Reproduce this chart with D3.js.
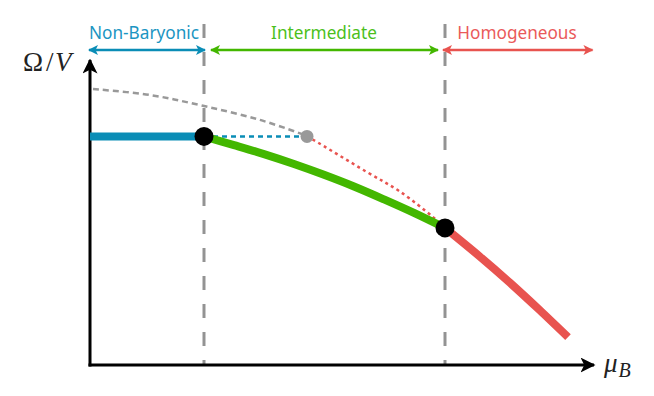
<!DOCTYPE html>
<html>
<head>
<meta charset="utf-8">
<script src="https://cdn.jsdelivr.net/npm/d3@7"></script>
<style>
html,body{margin:0;padding:0;background:#fff;}
svg{display:block;}
</style>
</head>
<body>
<svg id="chart" width="654" height="396"></svg>
<script>
// ---- data (chart units) ----
const phaseLabels = ["Non-Baryonic", "Intermediate", "Homogeneous"];
const transitions = [2.28, 7.1];
const xMax = 10.05;

const vacuumX = [0.06, 1.2, 2.26, 3.4, 4.34];
const vacuumY = [9.2, 9.0, 8.64, 8.17, 7.64];

const nonBaryonicX = [0, 2.28];
const nonBaryonicY = [7.62, 7.62];

const nonBaryonicExtX = [2.28, 4.34];
const nonBaryonicExtY = [7.62, 7.62];

const intermediateX = [2.28, 2.88, 3.48, 4.08, 4.68, 5.28, 5.88, 6.48, 7.1];
const intermediateY = [7.62, 7.33, 7.03, 6.70, 6.34, 5.95, 5.52, 5.07, 4.57];

const homogeneousMetaX = [4.34, 4.47, 5.53, 6.2, 6.86, 7.1];
const homogeneousMetaY = [7.62, 7.5, 6.44, 5.78, 4.93, 4.57];

const homogeneousX = [7.1, 7.8, 8.4, 9.0, 9.56];
const homogeneousY = [4.57, 3.61, 2.74, 1.82, 0.93];

const transitionPointsX = [2.28, 7.1];
const transitionPointsY = [7.62, 4.57];
const endpointX = [4.34];
const endpointY = [7.62];

// ---- drawing ----
const colors = { blue: "#0a8db6", green: "#43b700", red: "#e8534f", gray: "#999999" };
const labelColors = ["#1b95c2", "#4cbf1c", "#ea5a5a"];
const svg = d3.select("#chart");
const x = d3.scaleLinear().domain([0, 10]).range([90, 590]);
const y = d3.scaleLinear().domain([0, 10]).range([365, 65]);
const zip = (xs, ys) => xs.map((v, i) => [v, ys[i]]);
const line = d3.line().x(d => x(d[0])).y(d => y(d[1])).curve(d3.curveCatmullRom.alpha(0.5));

const defs = svg.append("defs");
function marker(id, color) {
  defs.append("marker").attr("id", id).attr("viewBox", "0 0 10 10")
    .attr("refX", 9).attr("refY", 5).attr("markerWidth", 4.2).attr("markerHeight", 4.2)
    .attr("markerUnits", "strokeWidth").attr("orient", "auto-start-reverse")
    .append("path").attr("d", "M0,0 L10,5 L0,10 L2.5,5 Z").attr("fill", color);
}
marker("mBlue", colors.blue); marker("mGreen", colors.green); marker("mRed", colors.red);
defs.append("marker").attr("id", "mAxis").attr("viewBox", "0 0 10 10")
  .attr("refX", 9).attr("refY", 5).attr("markerWidth", 5).attr("markerHeight", 5)
  .attr("markerUnits", "strokeWidth").attr("orient", "auto")
  .append("path").attr("d", "M0,0 L10,5 L0,10 L2.5,5 Z").attr("fill", "#000");

// vertical transition lines
svg.selectAll("line.trans").data(transitions).join("line")
  .attr("x1", d => x(d)).attr("x2", d => x(d)).attr("y1", 24).attr("y2", y(0))
  .attr("stroke", "#939393").attr("stroke-width", 3).attr("stroke-dasharray", "14,14");

// axes
svg.append("line").attr("x1", x(0)).attr("x2", x(0)).attr("y1", y(0) + 1.5).attr("y2", 60)
  .attr("stroke", "#000").attr("stroke-width", 3).attr("marker-end", "url(#mAxis)");
svg.append("line").attr("x1", x(0) - 1.5).attr("x2", 594).attr("y1", y(0)).attr("y2", y(0))
  .attr("stroke", "#000").attr("stroke-width", 3).attr("marker-end", "url(#mAxis)");

// axis labels
const yl = svg.append("text").attr("y", 71)
  .attr("font-family", "Liberation Serif, serif").attr("font-size", 27).attr("fill", "#222");
yl.append("tspan").attr("x", 23).text("Ω");
yl.append("tspan").attr("x", 46).text("/");
yl.append("tspan").attr("x", 55).attr("font-style", "italic").text("V");
const xl = svg.append("text").attr("x", 604).attr("y", 372)
  .attr("font-family", "Liberation Serif, serif").attr("font-size", 27).attr("fill", "#222")
  .attr("font-style", "italic");
xl.append("tspan").text("μ");
xl.append("tspan").attr("font-size", 20).attr("dy", 5).attr("dx", 1).text("B");

// phase arrows & labels
const bounds = [0, ...transitions, xMax];
const arrowSpans = [
  [x(bounds[0]) - 1, x(bounds[1]) + 1],
  [x(bounds[1]) + 7, x(bounds[2]) - 7],
  [x(bounds[2]) - 2, x(bounds[3]) - 0]
];
const markerIds = ["mBlue", "mGreen", "mRed"];
const arrowColors = [colors.blue, colors.green, colors.red];
svg.selectAll("line.phase").data(phaseLabels).join("line")
  .attr("x1", (d, i) => arrowSpans[i][0]).attr("x2", (d, i) => arrowSpans[i][1])
  .attr("y1", 50).attr("y2", 50)
  .attr("stroke", (d, i) => arrowColors[i]).attr("stroke-width", 2.4)
  .attr("marker-start", (d, i) => `url(#${markerIds[i]})`)
  .attr("marker-end", (d, i) => `url(#${markerIds[i]})`);
svg.selectAll("text.phase").data(phaseLabels).join("text")
  .attr("x", (d, i) => i === 2 ? 517 : (i === 0 ? 144 : 324)).attr("y", 39)
  .attr("text-anchor", "middle").attr("font-family", "Noto Sans, sans-serif")
  .attr("font-size", 17.2).attr("fill", (d, i) => labelColors[i]).text(d => d);

// curves
svg.append("path").attr("d", line(zip(vacuumX, vacuumY))).attr("fill", "none")
  .attr("stroke", colors.gray).attr("stroke-width", 2.5).attr("stroke-dasharray", "6,4");
svg.append("path").attr("d", line(zip(nonBaryonicExtX, nonBaryonicExtY))).attr("fill", "none")
  .attr("stroke", colors.blue).attr("stroke-width", 2.5).attr("stroke-dasharray", "5,4");
svg.append("path").attr("d", line(zip(homogeneousMetaX, homogeneousMetaY))).attr("fill", "none")
  .attr("stroke", colors.red).attr("stroke-width", 2.5).attr("stroke-dasharray", "3,3.5");
svg.append("path").attr("d", line(zip(nonBaryonicX, nonBaryonicY))).attr("fill", "none")
  .attr("stroke", colors.blue).attr("stroke-width", 8);
svg.append("path").attr("d", line(zip(homogeneousX, homogeneousY))).attr("fill", "none")
  .attr("stroke", colors.red).attr("stroke-width", 8);
svg.append("path").attr("d", line(zip(intermediateX, intermediateY))).attr("fill", "none")
  .attr("stroke", colors.green).attr("stroke-width", 8);

// points
svg.selectAll("circle.end").data(zip(endpointX, endpointY)).join("circle")
  .attr("cx", d => x(d[0])).attr("cy", d => y(d[1])).attr("r", 6.5).attr("fill", colors.gray);
svg.selectAll("circle.trans").data(zip(transitionPointsX, transitionPointsY)).join("circle")
  .attr("cx", d => x(d[0])).attr("cy", d => y(d[1])).attr("r", 9.5).attr("fill", "#000");
</script>
</body>
</html>
